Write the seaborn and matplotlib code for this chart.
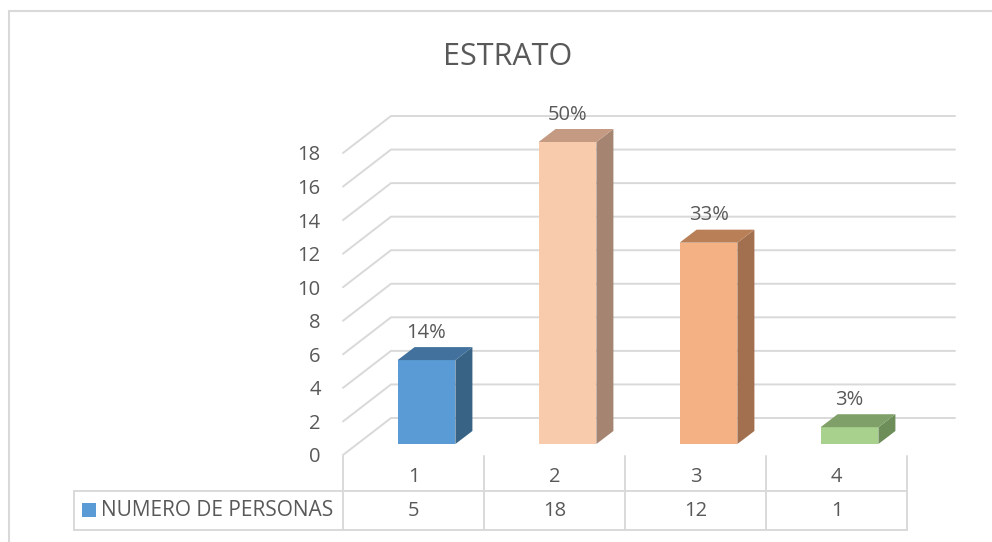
import matplotlib
matplotlib.use("Agg")
import matplotlib.pyplot as plt
from matplotlib.patches import Polygon, Rectangle
from matplotlib.lines import Line2D
import matplotlib.transforms as mtransforms
import seaborn as sns
import pandas as pd

# ---- data ----
title = "ESTRATO"
categories = ["1", "2", "3", "4"]
values = [5, 18, 12, 1]
percent_labels = ["14%", "50%", "33%", "3%"]
series_name = "NUMERO DE PERSONAS"
y_ticks = [0, 2, 4, 6, 8, 10, 12, 14, 16, 18]

front_colors = ["#5B9BD5", "#F8CBAD", "#F4B183", "#A9D18E"]
top_colors = ["#41719C", "#C49A82", "#B98058", "#7FA068"]
side_colors = ["#386385", "#A58572", "#A2704E", "#6D8D59"]
TEXT = "#595959"
GRID = "#D9D9D9"

sns.set_theme(style="white")
plt.rcParams["font.family"] = ["Open Sans", "DejaVu Sans"]

W, H = 992, 542
fig = plt.figure(figsize=(W / 100, H / 100), dpi=100)

def fx(px):
    return px / W

def fy(py):
    return 1 - py / H

# axes in pixel space: front plane 0 at y=455, 18 at y=153
ax_left, ax_right, ax_bottom, ax_top = 343, 955, 455, 100
ax = fig.add_axes([fx(ax_left), fy(ax_bottom), fx(ax_right) - fx(ax_left), fy(ax_top) - fy(ax_bottom)])
ppy = (455 - 153) / 18.0   # px per y-unit
ppx = 141.0                # px per category

df = pd.DataFrame({"cat": categories, "val": values})
sns.barplot(data=df, x="cat", y="val", hue="cat", palette=front_colors,
            width=0.41, saturation=1, legend=False, ax=ax, zorder=3)
ax.set_xlim(-0.5, -0.5 + (ax_right - ax_left) / ppx)
ax.set_ylim(0, (ax_bottom - ax_top) / ppy)

# 3D offsets (data units)
GX, GY = 48 / ppx, 37 / ppy     # back wall offset
BX, BY = 13 / ppx, 11 / ppy     # bar position (mid depth)
DX, DY = 17 / ppx, 13 / ppy     # bar depth

# gridlines
for v in y_ticks:
    ax.add_line(Line2D([-0.5, -0.5 + GX, ax.get_xlim()[1]], [v, v + GY, v + GY],
                       color=GRID, lw=1.4, zorder=1, clip_on=False))

for i, p in enumerate(ax.patches):
    p.set_x(p.get_x() + BX)
    p.set_y(p.get_y() + BY)
    p.set_edgecolor("none")
    x0 = p.get_x()
    x1 = x0 + p.get_width()
    b = p.get_y()
    t = b + p.get_height()
    ax.add_patch(Polygon([(x1, b), (x1 + DX, b + DY), (x1 + DX, t + DY), (x1, t)],
                         closed=True, facecolor=side_colors[i], edgecolor="none", zorder=3))
    ax.add_patch(Polygon([(x0, t), (x1, t), (x1 + DX, t + DY), (x0 + DX, t + DY)],
                         closed=True, facecolor=top_colors[i], edgecolor="none", zorder=3))
    ax.annotate(percent_labels[i], xy=((x0 + x1) / 2, t + DY), xytext=(0, 3),
                textcoords="offset points", ha="center", va="bottom",
                fontsize=14.5, color=TEXT, zorder=5)

ax.set_xticks([])
ax.set_xlabel("")
ax.set_ylabel("")
ax.set_yticks(y_ticks)
ax.set_yticklabels([str(v) for v in y_ticks])
ax.tick_params(axis="y", length=0, pad=16, labelsize=14.5, labelcolor=TEXT)
for s in ax.spines.values():
    s.set_visible(False)
ax.patch.set_alpha(0)

# title
fig.text(fx(508), fy(57), title, ha="center", va="center", fontsize=22, color=TEXT)

# outer frame
fig.add_artist(Line2D([fx(9), fx(W)], [fy(11), fy(11)], color=GRID, lw=1.5))
fig.add_artist(Line2D([fx(9), fx(9)], [fy(11), fy(H)], color=GRID, lw=1.5))

# data table
blend = mtransforms.blended_transform_factory(ax.transData, fig.transFigure)
row1_top, row_mid, row_bot = 456, 491, 530
n = len(categories)
bounds = [i - 0.5 for i in range(n + 1)]
for bx in bounds:
    fig.add_artist(Line2D([bx, bx], [fy(row1_top), fy(row_bot)], color=GRID, lw=1.4,
                          transform=blend))
table_right = ax_left + ppx * n
fig.add_artist(Line2D([fx(74), fx(74)], [fy(row_mid), fy(row_bot)], color=GRID, lw=1.4))
fig.add_artist(Line2D([fx(74), fx(table_right)], [fy(row_mid), fy(row_mid)],
                      color=GRID, lw=1.4))
fig.add_artist(Line2D([fx(74), fx(table_right)], [fy(row_bot), fy(row_bot)],
                      color=GRID, lw=1.4))
for i, c in enumerate(categories):
    fig.text(i, fy(477), c, transform=blend, ha="center", va="center", fontsize=14.5, color=TEXT)
    fig.text(i, fy(511), str(values[i]), transform=blend, ha="center", va="center",
             fontsize=14.5, color=TEXT)
fig.add_artist(Rectangle((fx(82), fy(517)), fx(14), 14 / H, facecolor=front_colors[0],
                         edgecolor="none", transform=fig.transFigure))
fig.text(fx(101), fy(510), series_name, ha="left", va="center", fontsize=15, color=TEXT)

fig.savefig("out.png", dpi=100, facecolor="white")
